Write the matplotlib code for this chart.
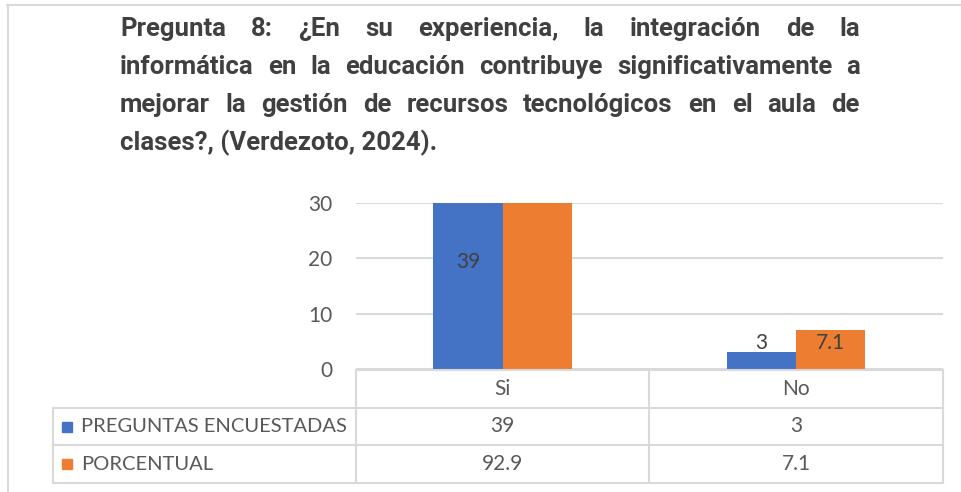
import numpy as np
import matplotlib
matplotlib.use("Agg")
from matplotlib import pyplot as plt
from matplotlib.lines import Line2D

# ---------------- dati ----------------
categorias = ["Si", "No"]
series = ["PREGUNTAS ENCUESTADAS", "PORCENTUAL"]
preguntas = [39, 3]
porcentual = [92.9, 7.1]
yticks = [0, 10, 20, 30]
titulo = ["Pregunta 8: ¿En su experiencia, la integración de la",
          "informática en la educación contribuye significativamente a",
          "mejorar la gestión de recursos tecnológicos en el aula de",
          "clases?, (Verdezoto, 2024)."]

valores = [preguntas, porcentual]
colores = ["#4472C4", "#ED7D31"]
# spostamento etichette (punti) dalla cima visibile della barra, per serie; None = niente etichetta
off_etichette = [[-43, 7], [None, -9.5]]

W, H = 961, 492
fig = plt.figure(figsize=(W / 100, H / 100), dpi=100)

def fx(px):
    return px / W

def fy(py):
    return 1 - py / H

grigio = "#d9d9d9"
fam = ["Lato", "DejaVu Sans"]
fam_tit = ["Roboto", "DejaVu Sans"]

# cornice della pagina
fig.add_artist(Line2D([fx(7), 1], [fy(5), fy(5)], color=grigio, lw=1.5))
fig.add_artist(Line2D([fx(8), fx(8)], [fy(5), 0], color=grigio, lw=1.5))

# ---------------- titolo giustificato ----------------
renderer = fig.canvas.get_renderer()
x0, x1 = 120, 860
righe_y = [29, 67, 105, 143]
fs_tit = 18.5
for i, riga in enumerate(titulo):
    if i == len(titulo) - 1:
        fig.text(fx(x0), fy(righe_y[i]), riga, fontsize=fs_tit, fontweight="bold",
                 family=fam_tit, color="#404040", va="center", ha="left")
        continue
    parole = riga.split(" ")
    testi = [fig.text(0, fy(righe_y[i]), p, fontsize=fs_tit, fontweight="bold",
                      family=fam_tit, color="#404040", va="center", ha="left") for p in parole]
    larghezze = [t.get_window_extent(renderer).width for t in testi]
    gap = (x1 - x0 - sum(larghezze)) / (len(parole) - 1)
    pos = x0
    for t, l in zip(testi, larghezze):
        t.set_x(fx(pos))
        pos += l + gap

# ---------------- grafico a barre ----------------
ax = fig.add_axes([fx(356), fy(369), fx(942.7) - fx(356), fy(202.7) - fy(369)])
x = np.arange(len(categorias))
w = 0.236
for j, vals in enumerate(valores):
    ax.bar(x + (j - 0.5) * w, vals, w, color=colores[j], zorder=2)
ax.set_xlim(-0.5, len(categorias) - 0.5)
ax.set_ylim(yticks[0], yticks[-1])
ax.set_yticks(yticks)
ax.set_xticks([])
ax.yaxis.grid(True, color=grigio, lw=1.5, zorder=0)
for s in ax.spines.values():
    s.set_visible(False)
ax.tick_params(axis="y", length=0, pad=17, labelsize=15, labelcolor="#595959")
for lab in ax.get_yticklabels():
    lab.set_family(fam)

ymax = yticks[-1]
for j, vals in enumerate(valores):
    for i, v in enumerate(vals):
        off = off_etichette[j][i]
        if off is None:
            continue
        ax.annotate(f"{v:g}", (x[i] + (j - 0.5) * w, min(v, ymax)), xytext=(0, off),
                    textcoords="offset points", ha="center", va="center",
                    fontsize=15, color="#404040", family=fam)

# ---------------- tabella dati ----------------
tax = fig.add_axes([fx(53), fy(483), fx(942.7) - fx(53), fy(370) - fy(483)])
col_lab = (356 - 53) / 293.4
xl = -0.5 - col_lab
xr = len(categorias) - 0.5
tax.set_xlim(xl, xr)
tax.set_ylim(3, 0)
tax.axis("off")
kw = dict(color=grigio, lw=1.5, clip_on=False, solid_capstyle="projecting")
tax.plot([-0.5, xr], [0, 0], **kw)
for r in [1, 2, 3]:
    tax.plot([xl, xr], [r, r], **kw)
tax.plot([xl, xl], [1, 3], **kw)
for c in np.arange(len(categorias) + 1) - 0.5:
    tax.plot([c, c], [0, 3], **kw)

for i, cat in enumerate(categorias):
    tax.text(i, 0.5, cat, ha="center", va="center", fontsize=15, color="#595959", family=fam)
for j, (nome, vals) in enumerate(zip(series, valores)):
    yy = j + 1.5
    tax.plot([xl + 14 / 293.4], [yy], marker="s", ms=7.2, color=colores[j], clip_on=False)
    tax.text(xl + 28 / 293.4, yy, nome, ha="left", va="center", fontsize=14.5,
             color="#595959", family=fam)
    for i, v in enumerate(vals):
        tax.text(i, yy, f"{v:g}", ha="center", va="center", fontsize=15,
                 color="#595959", family=fam)

fig.savefig("out.png", dpi=100)
